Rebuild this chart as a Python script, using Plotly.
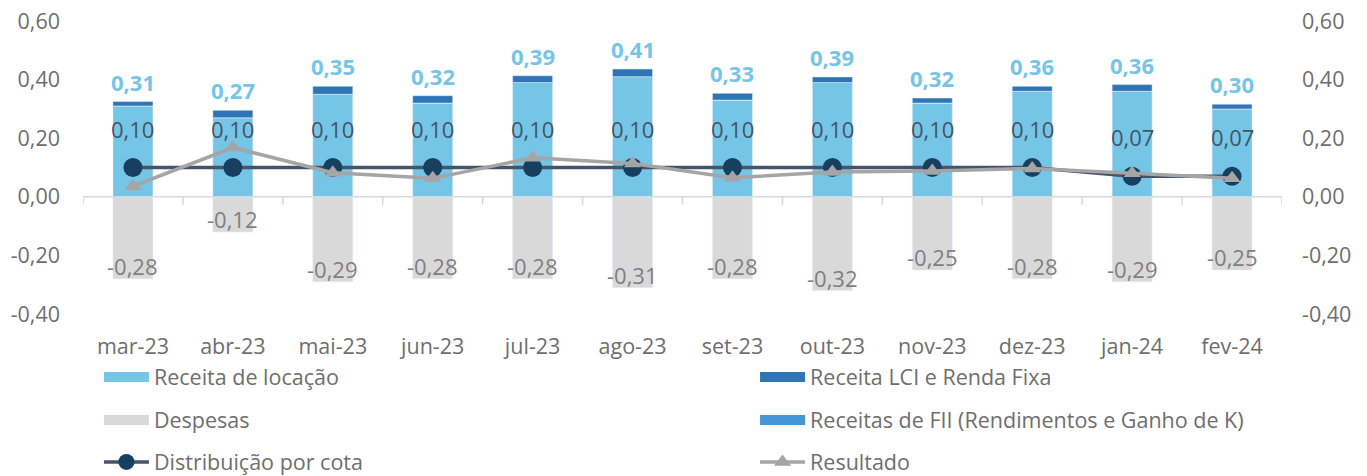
import plotly.graph_objects as go

categories = ["mar-23", "abr-23", "mai-23", "jun-23", "jul-23", "ago-23",
              "set-23", "out-23", "nov-23", "dez-23", "jan-24", "fev-24"]
receita_locacao = [0.31, 0.27, 0.35, 0.32, 0.39, 0.41, 0.33, 0.39, 0.32, 0.36, 0.36, 0.30]
receita_lci = [0.015, 0.025, 0.027, 0.025, 0.023, 0.026, 0.023, 0.019, 0.017, 0.017, 0.023, 0.016]
receitas_fii = [0.0, 0.0, 0.0, 0.0, 0.0, 0.0, 0.0, 0.0, 0.0, 0.0, 0.0, 0.0]
despesas = [-0.28, -0.12, -0.29, -0.28, -0.28, -0.31, -0.28, -0.32, -0.25, -0.28, -0.29, -0.25]
distribuicao = [0.10, 0.10, 0.10, 0.10, 0.10, 0.10, 0.10, 0.10, 0.10, 0.10, 0.07, 0.07]
resultado = [0.036, 0.168, 0.082, 0.063, 0.133, 0.114, 0.065, 0.085, 0.088, 0.097, 0.080, 0.063]
tick_vals = [-0.4, -0.2, 0.0, 0.2, 0.4, 0.6]
tick_text = ["-0,40", "-0,20", "0,00", "0,20", "0,40", "0,60"]

C_LOC = "#75C5E6"
C_LCI = "#2E75B6"
C_FII = "#4596D6"
C_DESP = "#D9D9D9"
C_DIST_LINE = "#44546A"
C_DIST_MK = "#173F5F"
C_RES = "#A5A5A5"
TXT = "#6E6E6E"
FONT = "Open Sans"
FS = 21.5


def fmt(v):
    return f"{v:.2f}".replace(".", ",")


fig = go.Figure()
bw = 0.4
fig.add_trace(go.Bar(x=categories, y=receita_locacao, marker_color=C_LOC, width=bw,
                     showlegend=False, name="Receita de locação"))
fig.add_trace(go.Bar(x=categories, y=receitas_fii, marker_color=C_FII, width=bw,
                     showlegend=False, name="Receitas de FII (Rendimentos e Ganho de K)"))
fig.add_trace(go.Bar(x=categories, y=receita_lci, marker_color=C_LCI, width=bw,
                     showlegend=False, name="Receita LCI e Renda Fixa"))
fig.add_trace(go.Bar(x=categories, y=despesas, marker_color=C_DESP, width=bw,
                     showlegend=False, name="Despesas"))


# legend proxies for bars (wide rectangles like the reference)
def proxy(name, color, legend):
    fig.add_trace(go.Scatter(x=[None], y=[None], mode="lines", name=name,
                             line=dict(color=color, width=13), legend=legend))


proxy("Receita de locação", C_LOC, "legend")
proxy("Receita LCI e Renda Fixa", C_LCI, "legend2")
proxy("Despesas", C_DESP, "legend3")
proxy("Receitas de FII (Rendimentos e Ganho de K)", C_FII, "legend4")

fig.add_trace(go.Scatter(x=categories, y=distribuicao, mode="lines+markers",
                         name="Distribuição por cota", yaxis="y2", legend="legend5",
                         line=dict(color=C_DIST_LINE, width=3.5),
                         marker=dict(color=C_DIST_MK, size=19, symbol="circle")))
fig.add_trace(go.Scatter(x=categories, y=resultado, mode="lines+markers",
                         name="Resultado", yaxis="y2", legend="legend6",
                         line=dict(color=C_RES, width=3.5),
                         marker=dict(color=C_RES, size=15, symbol="triangle-up")))

ann = []
for i, c in enumerate(categories):
    top = receita_locacao[i] + receitas_fii[i] + receita_lci[i]
    ann.append(dict(x=c, y=top, yref="y", text=fmt(receita_locacao[i]), showarrow=False,
                    yshift=20, font=dict(family=FONT, size=22, color=C_LOC, weight="bold")))
    ann.append(dict(x=c, y=distribuicao[i], yref="y2", text=fmt(distribuicao[i]), showarrow=False,
                    yshift=39, font=dict(family=FONT, size=22, color=C_DIST_LINE)))
    ann.append(dict(x=c, y=despesas[i], yref="y", text=fmt(despesas[i]),
                    showarrow=False, yshift=13, font=dict(family=FONT, size=22, color="#7F7F7F")))

shapes = [dict(type="line", xref="paper", yref="y", x0=0, x1=1, y0=0, y1=0,
               line=dict(color=C_DESP, width=1.5), layer="below")]
for i in range(len(categories) + 1):
    shapes.append(dict(type="line", xref="x", yref="y", x0=i - 0.5, x1=i - 0.5,
                       ysizemode="pixel", yanchor=0, y0=0, y1=-8,
                       line=dict(color=C_DESP, width=1.5)))

leg_common = dict(orientation="h", xanchor="left", yanchor="middle",
                  itemwidth=45, font=dict(family=FONT, size=FS, color=TXT),
                  bgcolor="rgba(0,0,0,0)")
XL, XR = 0.0133, 0.5605
Y1, Y2, Y3 = -0.215, -0.362, -0.505

fig.update_layout(
    width=1367, height=476,
    margin=dict(l=83, r=85, t=21, b=162, autoexpand=False),
    plot_bgcolor="white", paper_bgcolor="white",
    barmode="relative",
    font=dict(family=FONT, size=FS, color=TXT),
    xaxis=dict(range=[-0.5, 11.5], showgrid=False, zeroline=False, showline=False,
               ticks="", ticklabelstandoff=17, tickfont=dict(size=FS, color=TXT)),
    yaxis=dict(range=[-0.4, 0.6], tickvals=tick_vals, ticktext=tick_text, showgrid=False,
               zeroline=False, showline=False, ticks="", ticklabelstandoff=22,
               tickfont=dict(size=FS, color=TXT)),
    yaxis2=dict(range=[-0.4, 0.6], tickvals=tick_vals, ticktext=tick_text, showgrid=False,
                zeroline=False, showline=False, ticks="", ticklabelstandoff=19,
                overlaying="y", side="right", tickfont=dict(size=FS, color=TXT)),
    legend=dict(x=XL, y=Y1, **leg_common),
    legend2=dict(x=XR, y=Y1, **leg_common),
    legend3=dict(x=XL, y=Y2, **leg_common),
    legend4=dict(x=XR, y=Y2, **leg_common),
    legend5=dict(x=XL, y=Y3, **leg_common),
    legend6=dict(x=XR, y=Y3, **leg_common),
    annotations=ann,
    shapes=shapes,
)

fig.write_html("out.html",
               config={"displayModeBar": False},
               post_script="document.body.style.margin='0';document.body.style.padding='0';"
                           "document.body.style.overflow='hidden';")
